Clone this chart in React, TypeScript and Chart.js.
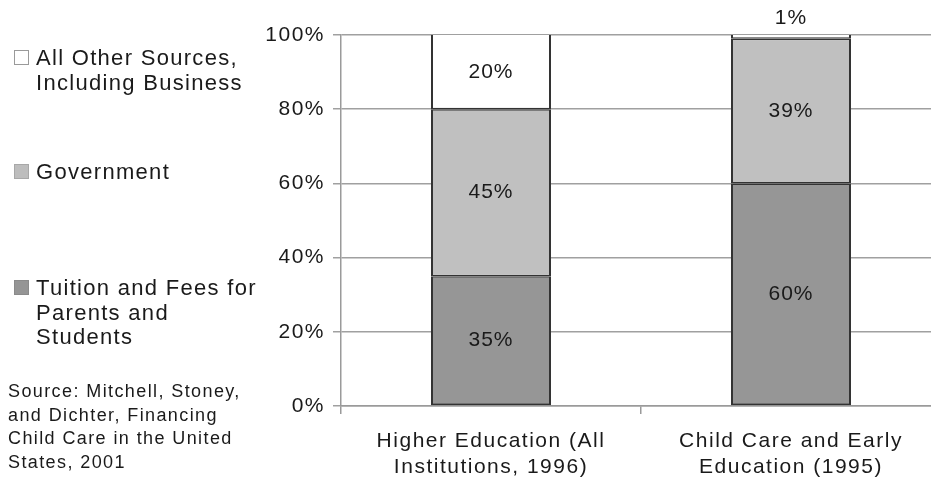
import React, { useEffect, useRef } from "react";
import { Chart, registerables } from "chart.js";

Chart.register(...registerables);

const FONT = '"Liberation Sans", Arial, Helvetica, sans-serif';

const categories = [
  ["Higher Education (All", "Institutions, 1996)"],
  ["Child Care and Early", "Education (1995)"],
];
const seriesNames = [
  "Tuition and Fees for Parents and Students",
  "Government",
  "All Other Sources, Including Business",
];
const tuition = [35, 60];
const government = [45, 39];
const otherSources = [20, 1];
const yTickStep = 20;
const yMax = 100;

const legendLines = [
  ["All Other Sources,", "Including Business"],
  ["Government"],
  ["Tuition and Fees for", "Parents and", "Students"],
];
const sourceLines = [
  "Source: Mitchell, Stoney,",
  "and Dichter, Financing",
  "Child Care in the United",
  "States, 2001",
];

const colors = ["#969696", "#c0c0c0", "#ffffff"];
const legendSwatch = [
  { bg: "#ffffff", border: "#9a9a9a" },
  { bg: "#bdbdbd", border: "#a8a8a8" },
  { bg: "#959595", border: "#8a8a8a" },
];
const legendPos = [
  { sq: 50, text: 46 },
  { sq: 164, text: 160 },
  { sq: 280, text: 276 },
];

export default function App() {
  const ref = useRef<HTMLCanvasElement>(null);

  useEffect(() => {
    const canvas = ref.current!;
    const segLabels = {
      id: "segLabels",
      afterDatasetsDraw(chart: any) {
        const c = chart.ctx;
        c.save();
        c.font = `21px ${FONT}`;
        c.fillStyle = "#1a1a1a";
        c.textAlign = "center";
        c.textBaseline = "middle";
        (c as any).letterSpacing = "1px";
        chart.data.datasets.forEach((ds: any, di: number) => {
          const meta = chart.getDatasetMeta(di);
          meta.data.forEach((el: any, i: number) => {
            const v = ds.data[i] as number;
            const p = el.getProps(["x", "y", "base"], true);
            if (v >= 5) c.fillText(v + "%", p.x, (p.y + p.base) / 2);
            else c.fillText(v + "%", p.x, p.y - 17);
          });
        });
        c.restore();
      },
    };
    const spacing = {
      id: "spacing",
      beforeDraw(chart: any) {
        (chart.ctx as any).letterSpacing = "1.5px";
      },
    };

    const bw = (top: number, bottom: number) => ({ top, bottom, left: 2, right: 2 });

    const chart = new Chart(canvas, {
      type: "bar",
      data: {
        labels: categories as any,
        datasets: [
          {
            label: seriesNames[0],
            data: tuition,
            backgroundColor: colors[0],
            borderColor: "#333",
            borderWidth: bw(1.5, 2),
            borderSkipped: false,
            barPercentage: 0.4,
            categoryPercentage: 1,
          },
          {
            label: seriesNames[1],
            data: government,
            backgroundColor: colors[1],
            borderColor: "#333",
            borderWidth: bw(1.5, 1.5),
            borderSkipped: false,
            barPercentage: 0.4,
            categoryPercentage: 1,
          },
          {
            label: seriesNames[2],
            data: otherSources,
            backgroundColor: colors[2],
            borderColor: "#333",
            borderWidth: bw(0, 1.5),
            borderSkipped: false,
            barPercentage: 0.4,
            categoryPercentage: 1,
          },
        ],
      },
      options: {
        animation: false,
        responsive: true,
        maintainAspectRatio: false,
        layout: { padding: { left: 255, top: 35, right: 0, bottom: 0 } },
        plugins: { legend: { display: false }, tooltip: { enabled: false } },
        scales: {
          x: {
            stacked: true,
            offset: true,
            grid: {
              drawOnChartArea: false,
              drawTicks: true,
              tickLength: 8,
              color: "#9a9a9a",
              lineWidth: 1.5,
            },
            border: { color: "#9a9a9a", width: 1.5 },
            ticks: {
              font: { size: 21, family: FONT, lineHeight: 1.25 },
              color: "#1a1a1a",
              padding: 14,
              maxRotation: 0,
              autoSkip: false,
            },
            afterFit: (s: any) => {
              s.height = 73;
            },
          },
          y: {
            stacked: true,
            min: 0,
            max: yMax,
            ticks: {
              stepSize: yTickStep,
              callback: (v: any) => v + "%",
              font: { size: 21, family: FONT },
              color: "#1a1a1a",
              padding: 8,
            },
            grid: { color: "#a0a0a0", lineWidth: 1.5, tickLength: 8 },
            border: { color: "#9a9a9a", width: 1.5 },
            afterFit: (s: any) => {
              s.width = 86;
            },
          },
        },
      },
      plugins: [spacing, segLabels],
    });
    return () => chart.destroy();
  }, []);

  return (
    <div
      style={{
        position: "fixed",
        left: 0,
        top: 0,
        width: 941,
        height: 479,
        background: "#fff",
        fontFamily: FONT,
        color: "#1a1a1a",
      }}
    >
      <canvas ref={ref} style={{ position: "absolute", left: 0, top: 0 }} />
      {legendLines.map((lines, i) => (
        <React.Fragment key={i}>
          <div
            style={{
              position: "absolute",
              left: 14,
              top: legendPos[i].sq,
              width: 13,
              height: 13,
              background: legendSwatch[i].bg,
              border: `1px solid ${legendSwatch[i].border}`,
            }}
          />
          <div
            style={{
              position: "absolute",
              left: 36,
              top: legendPos[i].text,
              fontSize: 22,
              lineHeight: "24.5px",
              letterSpacing: "1.3px",
              whiteSpace: "nowrap",
            }}
          >
            {lines.map((l, j) => (
              <div key={j}>{l}</div>
            ))}
          </div>
        </React.Fragment>
      ))}
      <div
        style={{
          position: "absolute",
          left: 8,
          top: 380,
          fontSize: 18,
          lineHeight: "23.5px",
          letterSpacing: "1.4px",
          whiteSpace: "nowrap",
        }}
      >
        {sourceLines.map((l, j) => (
          <div key={j}>{l}</div>
        ))}
      </div>
    </div>
  );
}
